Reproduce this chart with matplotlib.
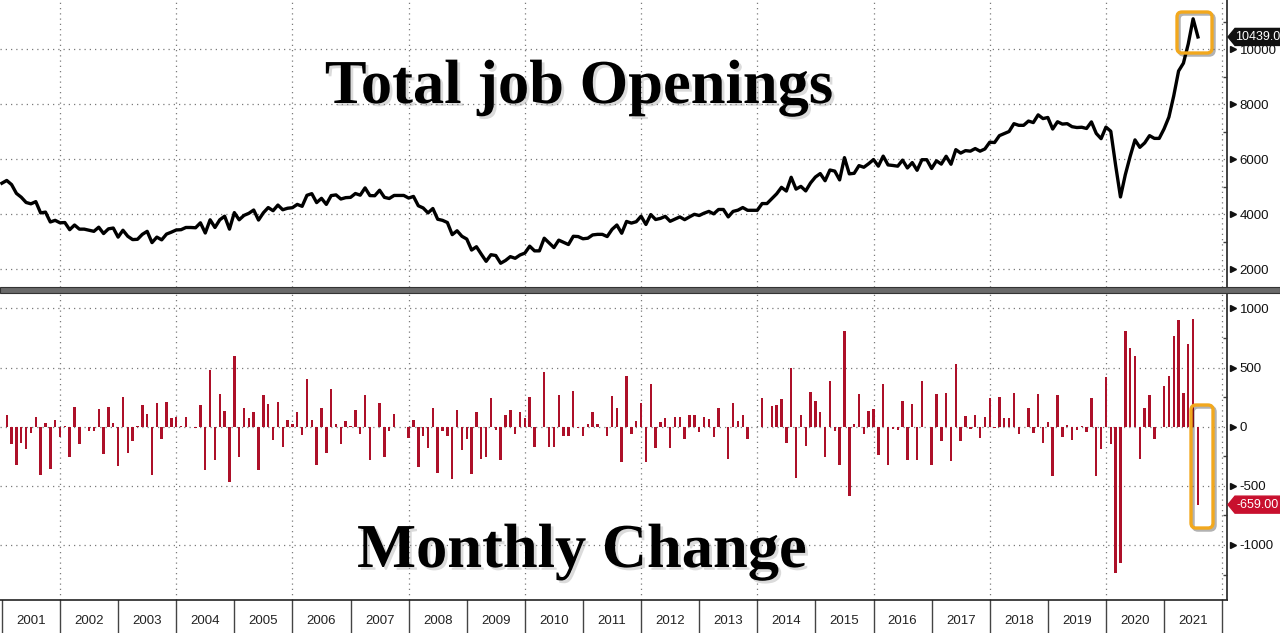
import numpy as np
import matplotlib
matplotlib.use("Agg")
import matplotlib.pyplot as plt
import matplotlib.patheffects as pe
from matplotlib.patches import Polygon, FancyBboxPatch, Rectangle
from matplotlib.transforms import IdentityTransform
from matplotlib.ticker import MultipleLocator, FixedLocator

# ---------------- data (JOLTS total job openings, thousands, monthly) ----------------
year_labels = [str(y) for y in range(2001, 2022)]
jobs_2001 = [5120, 5220, 5070, 4750, 4610, 4420, 4370, 4450, 4040, 4070, 3710, 3770]
jobs_2002 = [3680, 3690, 3430, 3600, 3450, 3450, 3410, 3370, 3520, 3290, 3460, 3490]
jobs_2003 = [3160, 3410, 3190, 3070, 3080, 3260, 3370, 2960, 3160, 3060, 3270, 3340]
jobs_2004 = [3420, 3430, 3510, 3510, 3500, 3680, 3310, 3790, 3510, 3790, 3920, 3450]
jobs_2005 = [4050, 3790, 3950, 4025, 4145, 3780, 4045, 4235, 4120, 4325, 4155, 4210]
jobs_2006 = [4230, 4350, 4280, 4680, 4740, 4415, 4570, 4350, 4670, 4695, 4545, 4595]
jobs_2007 = [4605, 4745, 4685, 4950, 4670, 4665, 4865, 4605, 4565, 4675, 4675, 4675]
jobs_2008 = [4580, 4640, 4300, 4220, 4040, 4200, 3810, 3770, 3690, 3250, 3390, 3190]
jobs_2009 = [3090, 2690, 2810, 2540, 2280, 2520, 2490, 2210, 2310, 2450, 2390, 2510]
jobs_2010 = [2580, 2830, 2660, 2660, 3120, 2950, 2780, 3050, 2970, 2890, 3190, 3180]
jobs_2011 = [3100, 3120, 3240, 3260, 3260, 3180, 3440, 3600, 3300, 3730, 3670, 3720]
jobs_2012 = [3920, 3620, 3980, 3800, 3840, 3915, 3735, 3815, 3895, 3795, 3895, 3990]
jobs_2013 = [3945, 4030, 4095, 4005, 4165, 4165, 3895, 4095, 4140, 4235, 4135, 4135]
jobs_2014 = [4135, 4380, 4380, 4555, 4735, 4970, 4835, 5335, 4905, 5005, 4840, 5130]
jobs_2015 = [5345, 5470, 5210, 5600, 5560, 5240, 6050, 5460, 5480, 5760, 5700, 5830]
jobs_2016 = [5980, 5740, 6105, 5785, 5765, 5740, 5960, 5675, 5870, 5590, 5975, 5975]
jobs_2017 = [5655, 5935, 5815, 6100, 5810, 6340, 6215, 6305, 6285, 6380, 6285, 6365]
jobs_2018 = [6610, 6600, 6850, 6925, 7000, 7285, 7225, 7225, 7380, 7325, 7605, 7470]
jobs_2019 = [7510, 7090, 7355, 7270, 7285, 7175, 7145, 7155, 7110, 7350, 6930, 6740]
jobs_2020 = [7160, 7010, 5770, 4620, 5430, 6095, 6695, 6425, 6585, 6850, 6750, 6750]
jobs_2021 = [7095, 7525, 8295, 9200, 9485, 10185, 11098, 10439]

top_ticks = [2000, 4000, 6000, 8000, 10000]
bottom_ticks = [-1000, -500, 0, 500, 1000]
title_top = "Total job Openings"
title_bottom = "Monthly Change"

openings = np.array(jobs_2001 + jobs_2002 + jobs_2003 + jobs_2004 + jobs_2005 + jobs_2006 +
                    jobs_2007 + jobs_2008 + jobs_2009 + jobs_2010 + jobs_2011 + jobs_2012 +
                    jobs_2013 + jobs_2014 + jobs_2015 + jobs_2016 + jobs_2017 + jobs_2018 +
                    jobs_2019 + jobs_2020 + jobs_2021, dtype=float)
months = np.arange(len(openings))          # 0 = Jan 2001
change = np.diff(openings)                  # monthly change, starting Feb 2001

# ---------------- layout ----------------
W, H = 1280, 633
fig = plt.figure(figsize=(W / 100, H / 100), dpi=100)
fig.patch.set_facecolor("white")

def fx(px):
    return px / W

def fy(py):
    return 1 - py / H

RIGHT = 1227
XLIM = (-0.39, 253.0)

ax1 = fig.add_axes([0, fy(287), fx(RIGHT), 287 / H])
ax2 = fig.add_axes([0, fy(600), fx(RIGHT), (600 - 293) / H])
ax3 = fig.add_axes([0, 0, fx(RIGHT), 33 / H])

grid_kw = dict(color="#7a7a7a", linestyle=(0, (1, 3.2)), linewidth=0.9)
label_font = dict(family="Liberation Sans", size=9.5, color="#111111")

for ax in (ax1, ax2):
    ax.set_xlim(*XLIM)
    for s in ("left", "top", "bottom"):
        ax.spines[s].set_visible(False)
    ax.spines["right"].set_color("#333333")
    ax.spines["right"].set_linewidth(1.3)
    ax.xaxis.set_major_locator(FixedLocator(list(range(12, 253, 24))))
    ax.tick_params(axis="x", which="both", length=0, labelbottom=False)
    ax.yaxis.tick_right()
    ax.tick_params(axis="y", which="major", length=0, pad=9)
    ax.tick_params(axis="y", which="minor", length=3, direction="in", color="#444444", width=1)
    ax.grid(True, which="major", **grid_kw)
    ax.set_axisbelow(True)

# top panel: line
ax1.set_ylim(1346, 11782)
ax1.set_yticks(top_ticks)
ax1.yaxis.set_minor_locator(MultipleLocator(1000))
ax1.set_yticklabels([str(t) for t in top_ticks], fontdict=label_font)
ax1.plot(months, openings, color="black", lw=2.4, zorder=3, solid_joinstyle="round")

# bottom panel: bars
ax2.set_ylim(-1465, 1130)
ax2.set_yticks(bottom_ticks)
ax2.yaxis.set_minor_locator(MultipleLocator(250))
ax2.set_yticklabels([str(t) for t in bottom_ticks], fontdict=label_font)
ax2.bar(months[1:], change, width=0.5, color="#ad1029", zorder=3, linewidth=0)

# triangle markers next to tick labels
for ax, ticks in ((ax1, top_ticks), (ax2, bottom_ticks)):
    ax.plot([1.0045] * len(ticks), ticks, marker=">", markersize=4.5, linestyle="none",
            color="#111111", transform=ax.get_yaxis_transform(), clip_on=False)

# year band
ax3.set_xlim(*XLIM)
ax3.set_ylim(0, 1)
for s in ("left", "right", "bottom"):
    ax3.spines[s].set_visible(False)
ax3.spines["top"].set_color("#222222")
ax3.spines["top"].set_linewidth(1.2)
ax3.set_xticks([])
ax3.set_yticks([])
for k in range(len(year_labels) + 1):
    ax3.axvline(12 * k, color="#444444", lw=1.0)
for k, lab in enumerate(year_labels):
    ax3.text(12 * k + 6, 0.36, lab, ha="center", va="center",
             family="Liberation Sans", size=9.5, color="#222222")

# separator between panels
fig.add_artist(Rectangle((0, fy(293)), 1, 6 / H, transform=fig.transFigure,
                         facecolor="#6a6a6a", edgecolor="#333333", lw=0.8, zorder=5))

# titles
shadow = [pe.SimplePatchShadow(offset=(2, -2), shadow_rgbFace="#999999", alpha=0.35), pe.Normal()]
fig.text(fx(579), fy(103), title_top, ha="center", va="baseline", fontsize=45,
         family="Liberation Serif", fontweight="bold", color="black", path_effects=shadow, zorder=6)
fig.text(fx(582), fy(567), title_bottom, ha="center", va="baseline", fontsize=45,
         family="Liberation Serif", fontweight="bold", color="black", path_effects=shadow, zorder=6)

# value tags
def tag(ax, value, text, color):
    yc = ax.transData.transform((0, value))[1]
    x0, x1, h = 1228, 1280, 8.5
    poly = Polygon([(x0, yc), (x0 + 7, yc + h), (x1, yc + h), (x1, yc - h), (x0 + 7, yc - h)],
                   closed=True, transform=IdentityTransform(), facecolor=color,
                   edgecolor=color, zorder=20)
    fig.add_artist(poly)
    fig.text(fx(1257.5), yc / H, text, ha="center", va="center", color="white",
             family="Liberation Sans", size=9, zorder=21)

tag(ax1, openings[-1], f"{openings[-1]:.1f}", "#111111")
tag(ax2, change[-1], f"{change[-1]:.2f}", "#c8102e")

# orange highlight boxes (pixel coordinates)
def orange_box(x0, y0, x1, y1):
    box = FancyBboxPatch((x0, H - y1), x1 - x0, y1 - y0,
                         boxstyle="round,pad=0,rounding_size=5",
                         transform=IdentityTransform(), facecolor="none",
                         edgecolor="#f2a81d", lw=2.4, zorder=15,
                         path_effects=[pe.SimpleLineShadow(offset=(1.5, -1.5), alpha=0.3), pe.Normal()])
    fig.add_artist(box)

orange_box(1177, 12, 1212, 53)
orange_box(1191, 405, 1213, 528)

fig.savefig("out.png", dpi=100)
